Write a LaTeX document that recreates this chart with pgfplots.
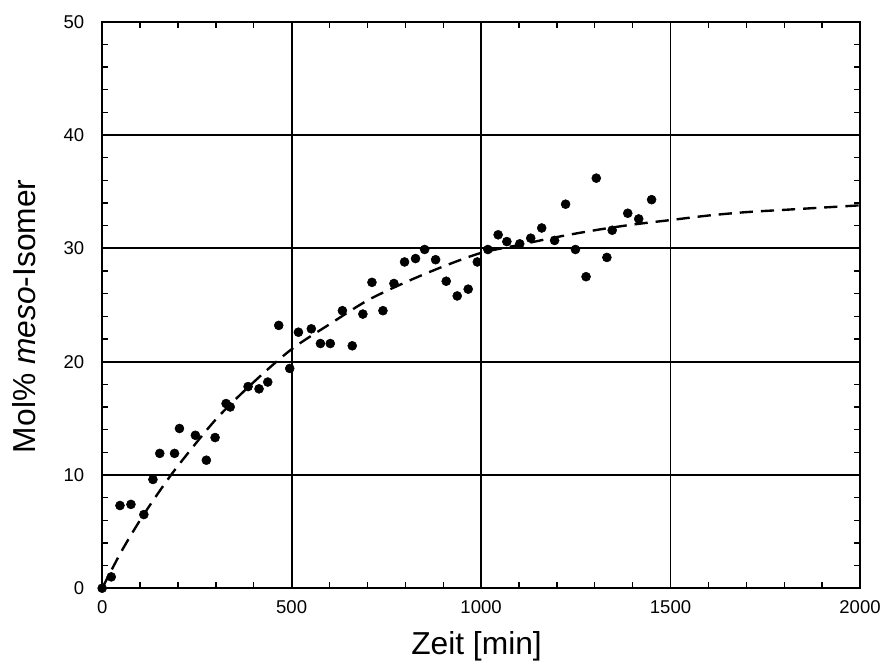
\documentclass[border=0pt]{standalone}
\usepackage{fontspec}
\setmainfont{Liberation Sans}
\usepackage{pgfplots}
\pgfplotsset{compat=1.18}
\begin{document}
\begin{tikzpicture}
\begin{axis}[
  name=ax,
  scale only axis,
  width=573pt, height=428.25pt,
  xmin=0, xmax=2000, ymin=0, ymax=50,
  xtick={0,500,1000,1500,2000},
  ytick={0,10,20,30,40,50},
  minor x tick num=4, minor y tick num=4,
  grid=major,
  major grid style={black, line width=1.4pt},
  axis line style={black, line width=1.5pt},
  tick align=inside,
  tick style={black, line width=1pt},
  major tick length=4.5pt, minor tick length=4.5pt,
  tick label style={font=\fontsize{14}{17}\selectfont},
  /pgf/number format/assume math mode=true,
  /pgf/number format/1000 sep={},
  xticklabel style={yshift=-6pt},
  yticklabel style={xshift=-10pt},
  xlabel={Zeit [min]},
  ylabel={Mol\% \textit{meso}-Isomer},
  label style={font=\fontsize{24}{28}\selectfont},
  xlabel style={at={(axis description cs:0.494,-0.1173)}, anchor=base},
  ylabel style={at={(axis description cs:-0.1034,0.48)}, anchor=center},
  clip=false,
]
\addplot[black, line width=1.8pt, dash pattern=on 10pt off 6pt, smooth] coordinates {
(0,0) (50,3.2) (100,6.0) (150,8.5) (200,10.8) (300,14.9) (400,18.2) (500,21.1)
(600,23.3) (700,25.4) (800,27.0) (900,28.4) (1000,29.6) (1100,30.3) (1200,31.0)
(1300,31.6) (1400,32.1) (1500,32.5) (1600,32.9) (1700,33.2) (1800,33.4) (1900,33.6) (2000,33.8)
};
\addplot[only marks, mark=*, mark size=3.4pt, black] coordinates {
(0,0) (24,1.0) (47,7.3) (76,7.4) (110,6.5) (134,9.6) (152,11.9) (191,11.9)
(204,14.1) (246,13.5) (275,11.3) (298,13.3) (327,16.3) (338,16.0) (385,17.8)
(414,17.6) (437,18.2) (466,23.2) (495,19.4) (518,22.6) (552,22.9) (576,21.6)
(602,21.6) (634,24.5) (660,21.4) (688,24.2) (712,27.0) (741,24.5) (770,26.9)
(798,28.8) (827,29.1) (851,29.9) (880,29.0) (908,27.1) (937,25.8) (966,26.4)
(990,28.8) (1018,29.9) (1045,31.2) (1068,30.6) (1102,30.4) (1131,30.9) (1160,31.8)
(1194,30.7) (1223,33.9) (1249,29.9) (1277,27.5) (1304,36.2) (1332,29.2) (1346,31.6)
(1387,33.1) (1416,32.6) (1450,34.3)
};
\end{axis}
\path ([shift={(-77.25pt,-56.25pt)}]ax.south west) rectangle ([shift={(13.5pt,16.5pt)}]ax.north east);
\end{tikzpicture}
\end{document}
